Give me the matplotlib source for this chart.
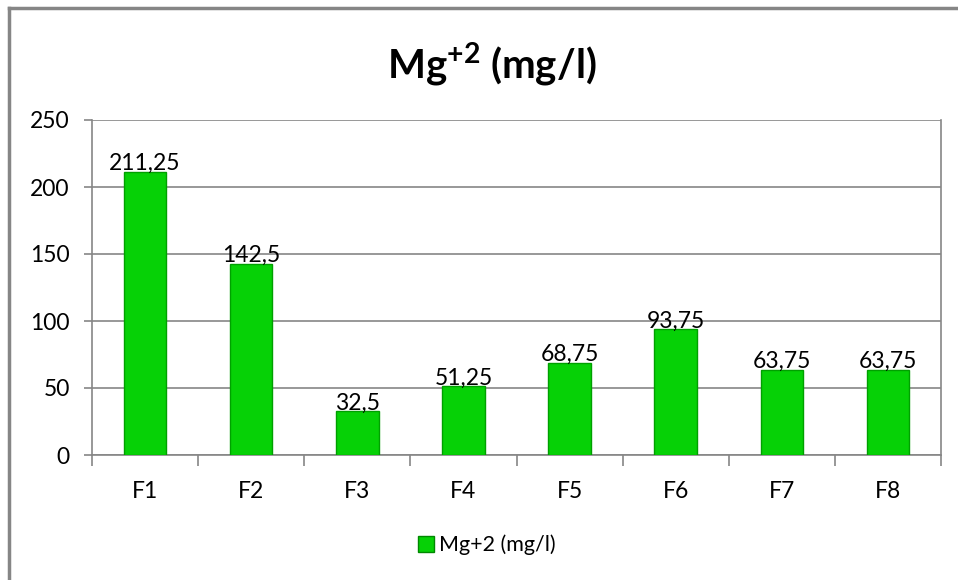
import matplotlib.pyplot as plt
from matplotlib.lines import Line2D

# Mg+2 concentration per sample
categories = ['F1', 'F2', 'F3', 'F4', 'F5', 'F6', 'F7', 'F8']
mg_values = [211.25, 142.5, 32.5, 51.25, 68.75, 93.75, 63.75, 63.75]
y_ticks = [0, 50, 100, 150, 200, 250]

plt.rcParams['font.family'] = ['Lato', 'DejaVu Sans']
plt.rcParams['mathtext.fontset'] = 'custom'
plt.rcParams['mathtext.rm'] = 'Lato'
plt.rcParams['mathtext.bf'] = 'Lato:bold'

fig = plt.figure(figsize=(9.58, 5.8), dpi=100)
W, H = 958, 580
ax = fig.add_axes([92 / W, (H - 455) / H, (941 - 92) / W, (455 - 120) / H])

grey = '#868686'
x = list(range(len(categories)))
bars = ax.bar(x, mg_values, width=0.4, color='#06d106', edgecolor='#00a000',
              linewidth=1.0, zorder=3, label='Mg+2 (mg/l)')

for xi, v in zip(x, mg_values):
    label = f'{v:g}'.replace('.', ',')
    ax.annotate(label, (xi, v), xytext=(0, -1.5), textcoords='offset points',
                ha='center', va='bottom', fontsize=16.5, color='black', zorder=4)

ax.set_xlim(-0.5, len(categories) - 0.5)
ax.set_ylim(0, 250)
ax.set_yticks(y_ticks)
ax.set_yticklabels([str(t) for t in y_ticks], fontsize=16.5)
ax.yaxis.grid(True, color=grey, linewidth=1.2, zorder=0)
ax.set_axisbelow(True)

# category labels centered, tick marks on category boundaries
ax.set_xticks(x)
ax.set_xticklabels(categories, fontsize=16.5)
ax.tick_params(axis='x', length=0, pad=19)
ax.set_xticks([i - 0.5 for i in range(len(categories) + 1)], minor=True)
ax.tick_params(axis='x', which='minor', length=8, color=grey, width=1.2, direction='out')
ax.tick_params(axis='y', length=6, color=grey, width=1.2, pad=10)

for side in ['left', 'bottom', 'right']:
    ax.spines[side].set_color(grey)
    ax.spines[side].set_linewidth(1.2)
ax.spines['top'].set_visible(False)

fig.text(492 / W, (H - 65) / H, r'Mg$^{\mathbf{+2}}$ (mg/l)', ha='center', va='center',
         fontsize=29, fontweight='bold')

handle = Line2D([], [], marker='s', linestyle='none', markersize=11,
                markerfacecolor='#06d106', markeredgecolor='#008800')
fig.legend([handle], ['Mg+2 (mg/l)'], loc='center', bbox_to_anchor=(485 / W, (H - 545) / H),
           frameon=False, fontsize=15.5, handletextpad=0.1, handlelength=1.0)

# chart border
fig.add_artist(Line2D([9 / W, 9 / W], [0, (H - 8) / H], color=grey, linewidth=2.5))
fig.add_artist(Line2D([9 / W, 1], [(H - 8) / H, (H - 8) / H], color=grey, linewidth=2.5))

fig.savefig('out.png', dpi=100)
